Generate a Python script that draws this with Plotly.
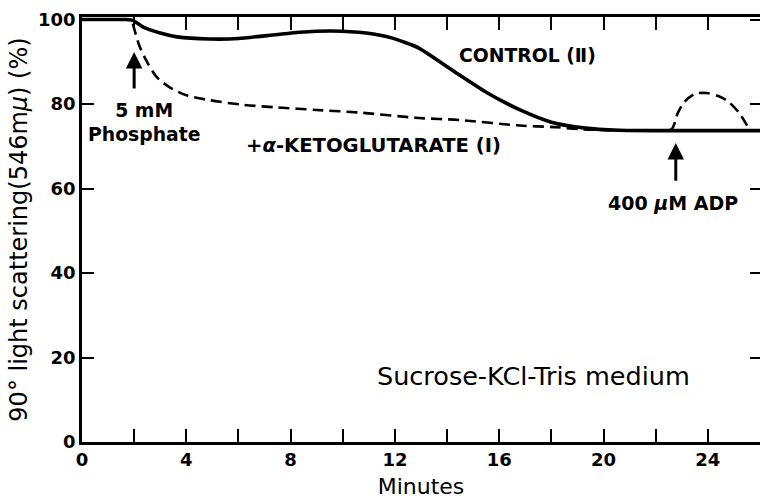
import plotly.graph_objects as go

# ---- data ----
control_x = [0, 1.0, 1.7, 1.95, 2.35, 3.0, 3.65, 4.9, 6.0, 7.1, 8.35, 9.6, 10.9, 11.9, 12.9,
             14.2, 15.5, 16.8, 18.0, 19.3, 20.6, 22, 24, 26]
control_y = [100, 100, 100, 99.8, 98.2, 96.8, 95.9, 95.4, 95.5, 96.2, 97.0, 97.3, 96.8, 95.6, 93.3,
             88.0, 82.8, 78.6, 75.7, 74.3, 73.8, 73.7, 73.7, 73.7]

akg_x = [1.95, 2.2, 2.5, 2.85, 3.35, 4.0, 4.9, 6.2, 7.5, 9.0, 10.6, 12.9, 14.5, 16.8,
         18.2, 19.2, 20.5, 22.0, 22.6, 22.85, 23.1, 23.5, 23.95, 24.4, 24.8, 25.2, 25.45, 25.6]
akg_y = [99.0, 93.8, 89.9, 86.5, 84.0, 82.1, 80.9, 79.8, 79.2, 78.6, 78.0, 76.7, 76.2, 74.9,
         74.5, 74.0, 73.8, 73.8, 74.0, 77.9, 80.5, 82.4, 82.6, 81.9, 80.5, 77.9, 75.5, 73.8]

x_tickvals = [0, 2, 4, 6, 8, 10, 12, 14, 16, 18, 20, 22, 24, 26]
x_ticktext = ["0", "", "4", "", "8", "", "12", "", "16", "", "20", "", "24", ""]
y_tickvals = [0, 20, 40, 60, 80, 100]
y_ticktext = ["0", "20", "40", "60", "80", "100"]

FONT = "DejaVu Sans"

fig = go.Figure()
fig.add_trace(go.Scatter(x=akg_x, y=akg_y, mode="lines",
                         line=dict(color="black", width=2.6, dash="11px,6px", shape="spline", smoothing=0.8),
                         showlegend=False, hoverinfo="skip"))
fig.add_trace(go.Scatter(x=control_x, y=control_y, mode="lines",
                         line=dict(color="black", width=3.6, shape="spline", smoothing=0.6),
                         showlegend=False, hoverinfo="skip"))
# empty trace to create right-side mirrored tick axis (ticks only, no line)
fig.add_trace(go.Scatter(x=[], y=[], yaxis="y2", showlegend=False, hoverinfo="skip"))

ann_bold = dict(family=FONT, size=18, color="black", weight="bold")

annotations = [
    dict(x=17.07, y=91.5, text="CONTROL (Ⅱ)", showarrow=False, font=dict(ann_bold, size=18.8)),
    dict(x=11.16, y=70.1, text="+<i>α</i>-KETOGLUTARATE (Ⅰ)", showarrow=False, font=dict(ann_bold, size=19.6)),
    dict(x=2.38, y=75.7, text="5 mM<br>Phosphate", showarrow=False, font=dict(ann_bold, size=18.8)),
    dict(x=22.65, y=56.6, text="400 <i>μ</i>M ADP", showarrow=False, font=dict(ann_bold, size=19)),
    dict(x=17.3, y=15.6, text="Sucrose-KCl-Tris medium", showarrow=False,
         font=dict(family=FONT, size=25.5, color="black")),
    # arrows
    dict(x=2.0, y=92.3, ax=2.0, ay=83.3, xref="x", yref="y", axref="x", ayref="y",
         text="", showarrow=True, arrowhead=2, arrowsize=1.1, arrowwidth=3, arrowcolor="black", standoff=0),
    dict(x=22.77, y=70.8, ax=22.77, ay=61.5, xref="x", yref="y", axref="x", ayref="y",
         text="", showarrow=True, arrowhead=2, arrowsize=1.1, arrowwidth=3, arrowcolor="black", standoff=0),
]

fig.update_layout(
    template="none",
    width=762, height=499,
    margin=dict(l=82, r=2, t=17, b=57),
    paper_bgcolor="white", plot_bgcolor="white",
    font=dict(family=FONT, color="black"),
    annotations=annotations,
    xaxis=dict(range=[0, 26], tickvals=x_tickvals, ticktext=x_ticktext, automargin=False,
               ticks="inside", ticklen=13, tickwidth=2, tickcolor="black",
               showline=True, linewidth=2.5, linecolor="black", mirror="ticks",
               showgrid=False, zeroline=False,
               tickfont=dict(family=FONT, size=18, weight="bold"),
               title=dict(text="Minutes", font=dict(family=FONT, size=22), standoff=11)),
    yaxis=dict(range=[0, 100.6], tickvals=y_tickvals, ticktext=y_ticktext, automargin=False,
               ticks="inside", ticklen=12, tickwidth=2, tickcolor="black",
               showline=True, linewidth=2.8, linecolor="black",
               showgrid=False, zeroline=False,
               tickfont=dict(family=FONT, size=18, weight="bold"),
               title=dict(text="90° light scattering(546m<i>μ</i>) (%)",
                          font=dict(family=FONT, size=24), standoff=4)),
    yaxis2=dict(range=[0, 100.6], overlaying="y", side="right", anchor="x", automargin=False,
                tickvals=y_tickvals, ticks="inside", ticklen=10, tickwidth=2, tickcolor="black",
                showticklabels=False, showline=False, showgrid=False, zeroline=False),
)

fig.write_html("out.html", config={"displayModeBar": False},
               post_script="document.body.style.margin='0';document.body.style.overflow='hidden';")
